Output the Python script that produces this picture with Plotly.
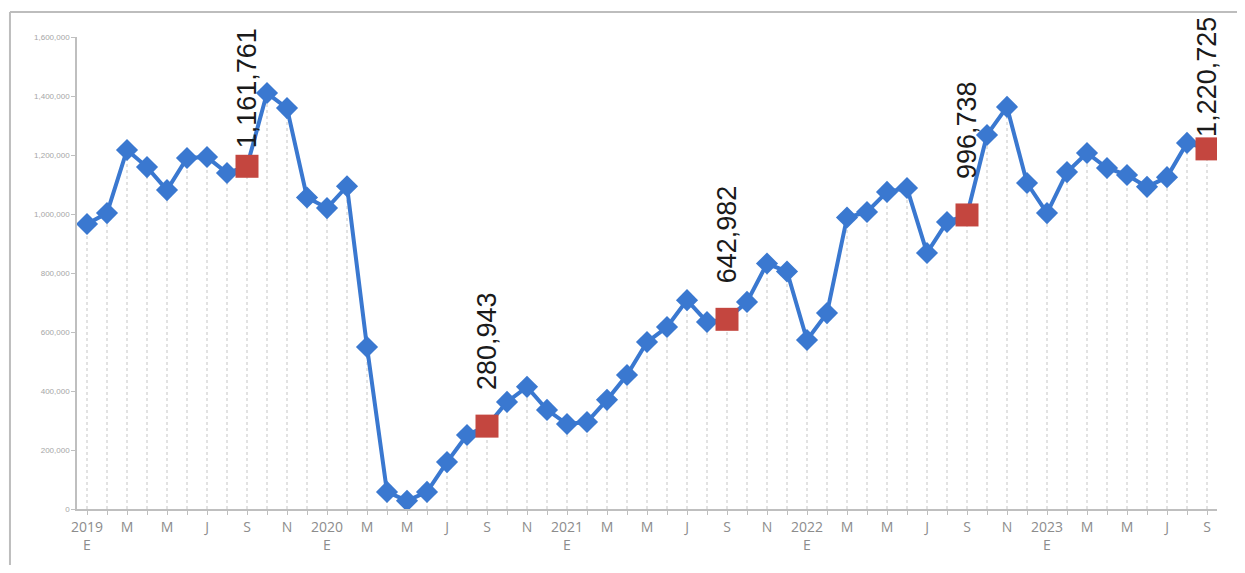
import plotly.graph_objects as go

# Monthly values Jan 2019 .. Sep 2023
values = [
    966000, 1003000, 1217000, 1159000, 1081000, 1190000, 1193000, 1139000, 1161761, 1410000, 1359000, 1056000,
    1020000, 1094000, 549000, 58000, 28000, 58000, 159000, 251000, 280943, 363000, 414000, 336000,
    288000, 295000, 370000, 454000, 566000, 617000, 708000, 634000, 642982, 702000, 832000, 805000,
    573000, 664000, 988000, 1007000, 1075000, 1088000, 868000, 973000, 996738, 1268000, 1363000, 1105000,
    1003000, 1142000, 1207000, 1156000, 1132000, 1092000, 1125000, 1241000, 1220725,
]
highlight_idx = [8, 20, 32, 44, 56]
highlight_labels = ["1,161,761", "280,943", "642,982", "996,738", "1,220,725"]
label_shift = [16, 34, 34, 34, 10]

tick_idx = list(range(0, 57, 2))
month_letters = ["E", "M", "M", "J", "S", "N"]
years = ["2019", "2020", "2021", "2022", "2023"]
tick_text = []
for i in tick_idx:
    m = i % 12
    if m == 0:
        tick_text.append(f"{years[i // 12]}<br>E")
    else:
        tick_text.append(month_letters[m // 2])

x = list(range(len(values)))

fig = go.Figure()

# drop lines
for xi, v in zip(x, values):
    fig.add_shape(type="line", x0=xi, x1=xi, y0=0, y1=v, xref="x", yref="y",
                  line=dict(color="#cfcfcf", width=1.2, dash="dot"), layer="below")

fig.add_trace(go.Scatter(
    x=x, y=values, mode="lines+markers",
    line=dict(color="#3a78d0", width=4),
    marker=dict(symbol="diamond", size=17, color="#3a78d0"),
    showlegend=False, hoverinfo="skip",
))
fig.add_trace(go.Scatter(
    x=highlight_idx, y=[values[i] for i in highlight_idx], mode="markers",
    marker=dict(symbol="square", size=23, color="#c4463f"),
    showlegend=False, hoverinfo="skip",
))

for i, lab, sh in zip(highlight_idx, highlight_labels, label_shift):
    fig.add_annotation(x=i, y=values[i], text=lab, textangle=-90, showarrow=False,
                       yanchor="bottom", yshift=sh,
                       font=dict(family="Liberation Sans, Arial, sans-serif", size=27, color="#1a1a1a"))

# outer frame
fig.add_shape(type="line", xref="paper", yref="paper", x0=-0.0588, x1=1.04, y0=1.053, y1=1.053,
              line=dict(color="#bdbdbd", width=2))
fig.add_shape(type="line", xref="paper", yref="paper", x0=-0.0588, x1=-0.0588, y0=1.053, y1=-0.14,
              line=dict(color="#bdbdbd", width=2))

fig.update_layout(
    width=1229, height=557,
    margin=dict(l=69, r=20, t=29, b=56),
    paper_bgcolor="white", plot_bgcolor="white",
    xaxis=dict(
        range=[-0.5, 56.5], tickvals=tick_idx, ticktext=tick_text,
        showgrid=False, zeroline=False, showline=True, linecolor="#bfbfbf", linewidth=1.5,
        ticks="outside", ticklen=4, tickcolor="#bfbfbf",
        minor=dict(dtick=1, tick0=0, ticks="outside", ticklen=4, tickcolor="#bfbfbf"),
        tickfont=dict(family="Open Sans, sans-serif", size=14, color="#8c8c8c"),
    ),
    yaxis=dict(
        range=[0, 1600000], dtick=200000, tickformat=",d",
        showgrid=False, zeroline=False, showline=True, linecolor="#bfbfbf", linewidth=1.5,
        ticks="outside", ticklen=4, tickcolor="#bfbfbf",
        tickfont=dict(family="Liberation Sans, sans-serif", size=8, color="#a6a6a6"),
    ),
)

fig.write_html("out.html")
